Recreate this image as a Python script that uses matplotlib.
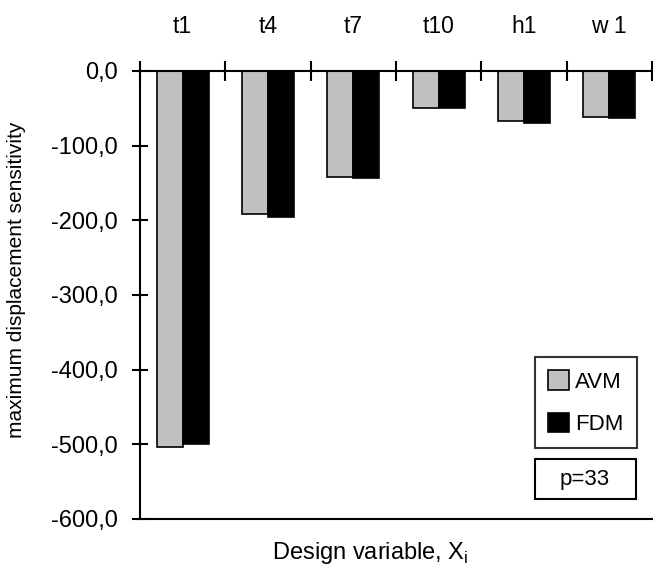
import matplotlib.pyplot as plt
from matplotlib.patches import Rectangle

plt.rcParams['font.family'] = ['Liberation Sans', 'DejaVu Sans']

variables = ["t1", "t4", "t7", "t10", "h1", "w 1"]
avm = [-503.0, -192.0, -142.0, -50.0, -67.0, -62.0]
fdm = [-500.0, -196.0, -143.0, -50.0, -70.0, -63.0]
y_ticks = [0, -100, -200, -300, -400, -500, -600]
y_labels = ["0,0", "-100,0", "-200,0", "-300,0", "-400,0", "-500,0", "-600,0"]

fig = plt.figure(figsize=(6.53, 5.71), dpi=100)
ax = fig.add_axes([140 / 653, 52 / 571, 512 / 653, 448 / 571])

centers = [i + 0.5 for i in range(len(variables))]
w = 0.305
ax.bar([c - w / 2 for c in centers], avm, width=w, color="#c0c0c0",
       edgecolor="black", linewidth=1.2, label="AVM")
ax.bar([c + w / 2 for c in centers], fdm, width=w, color="black",
       edgecolor="black", linewidth=1.2, label="FDM")

ax.set_xlim(0, len(variables))
ax.set_ylim(-600, 0)

# y axis: comma decimals, ticks crossing the spine
ax.set_yticks(y_ticks)
ax.set_yticklabels(y_labels, fontsize=17)
ax.tick_params(axis="y", direction="inout", length=12, width=1.5, pad=10)

# category separators on the zero line, names above it
ax.xaxis.tick_top()
ax.set_xticks(range(len(variables) + 1))
ax.set_xticklabels([])
ax.set_xticks(centers, minor=True)
ax.set_xticklabels(variables, minor=True, fontsize=16.5)
ax.tick_params(axis="x", which="major", direction="inout", length=14, width=1.5)
ax.tick_params(axis="x", which="minor", length=0, pad=24)

for side in ["left", "top", "bottom"]:
    ax.spines[side].set_linewidth(1.5)
ax.spines["right"].set_visible(False)

fig.text(17 / 653, 1 - 280 / 571, "maximum displacement sensitivity",
         rotation=90, ha="center", va="center", fontsize=15)
fig.text(370 / 653, 1 - 553 / 571, r"Design variable, X$_{\mathregular{i}}$",
         ha="center", va="center", fontsize=17)

leg = ax.legend(loc="upper left", bbox_to_anchor=(535 / 653, 1 - 357 / 571),
                bbox_transform=fig.transFigure, fontsize=16, frameon=True,
                fancybox=False, edgecolor="black", handlelength=0.95,
                handleheight=0.95, handletextpad=0.25, labelspacing=0.9,
                borderpad=0.6, borderaxespad=0)
leg.get_frame().set_linewidth(1.5)

fig.patches.append(Rectangle((535 / 653, 1 - 499 / 571), 101 / 653, 40 / 571,
                             transform=fig.transFigure, fill=False,
                             edgecolor="black", linewidth=1.5))
fig.text(585 / 653, 1 - 479 / 571, "p=33", ha="center", va="center", fontsize=16)

fig.savefig("out.png", dpi=100)
